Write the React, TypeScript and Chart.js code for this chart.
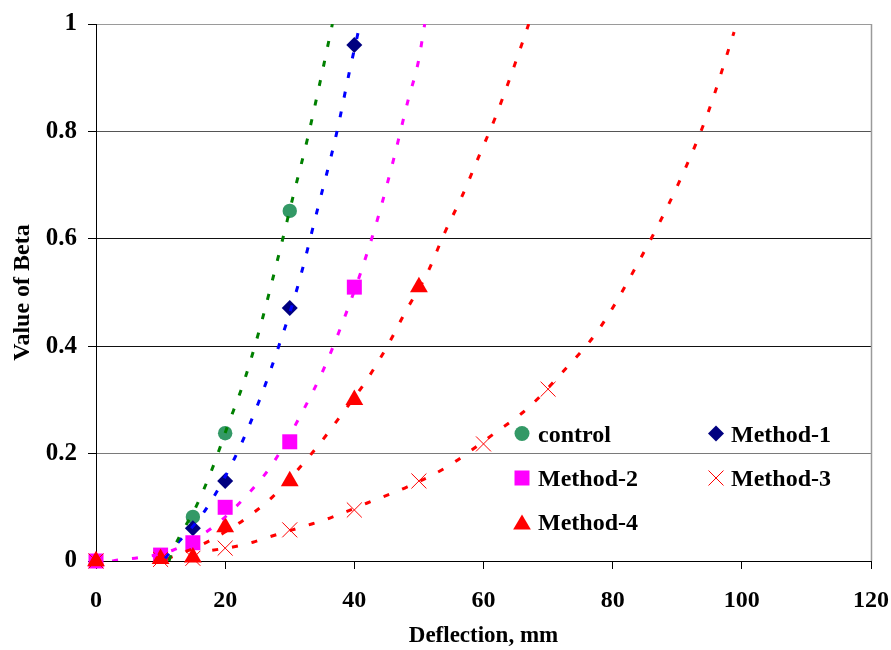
import React, { useEffect, useRef } from 'react';
import { Chart, registerables } from 'chart.js';

Chart.register(...registerables);

// ---- Measured markers ----
const controlX = [15, 20, 30];
const controlY = [0.082, 0.238, 0.652];
const method1X = [15, 20, 30, 40];
const method1Y = [0.061, 0.149, 0.471, 0.961];
const method2X = [0, 10, 15, 20, 30, 40];
const method2Y = [0, 0.011, 0.034, 0.1, 0.222, 0.51];
const method3X = [0, 10, 15, 20, 30, 40, 50, 60, 70];
const method3Y = [0, 0.003, 0.005, 0.024, 0.058, 0.095, 0.149, 0.218, 0.32];
const method4X = [0, 10, 15, 20, 30, 40, 50];
const method4Y = [0, 0.004, 0.007, 0.063, 0.149, 0.3, 0.51];

// ---- Trend lines ----
const controlTrendX = [11.3, 11.9, 15.6, 18.1, 20.4, 22.8, 25.2, 28.3, 30.5, 32.7, 34.7, 36.6];
const controlTrendY = [0, 0.02, 0.104, 0.175, 0.252, 0.33, 0.426, 0.57, 0.678, 0.784, 0.892, 1.0];
const method1TrendX = [10.7, 12.4, 16.6, 21.4, 25.2, 28.3, 31.3, 34.2, 37.3, 39.2, 40.6];
const method1TrendY = [0.005, 0.03, 0.089, 0.19, 0.296, 0.4, 0.514, 0.65, 0.799, 0.909, 0.985];
const method2TrendX = [2.5, 3.4, 6.5, 11.9, 18.1, 23.1, 27.4, 32.1, 35.2, 37.6, 40.9, 43.7, 46.1, 48.3, 49.9, 50.9];
const method2TrendY = [0, 0.002, 0.006, 0.02, 0.063, 0.119, 0.182, 0.281, 0.356, 0.426, 0.534, 0.641, 0.749, 0.857, 0.929, 1.0];
const method3TrendX = [18, 21.2, 24.3, 27.4, 33.4, 36.2, 42.0, 48.2, 54.3, 61.5, 66.9, 71.8, 77.9, 84.2, 90.0, 94.8, 98.8];
const method3TrendY = [0.02, 0.026, 0.035, 0.047, 0.069, 0.08, 0.108, 0.138, 0.175, 0.236, 0.285, 0.346, 0.432, 0.561, 0.698, 0.836, 0.985];
const method4TrendX = [11, 12.4, 15.6, 18.4, 21.2, 24.3, 27.3, 34.2, 38.1, 41.8, 45.1, 48.0, 51.3, 53.9, 56.7, 59.3, 61.8, 64.0, 66.1, 67.0];
const method4TrendY = [0.004, 0.011, 0.026, 0.043, 0.063, 0.089, 0.119, 0.212, 0.274, 0.335, 0.4, 0.466, 0.536, 0.609, 0.68, 0.754, 0.825, 0.896, 0.968, 1.0];

// ---- Axis ----
const xMin = 0;
const xMax = 120;
const xStep = 20;
const yMin = 0;
const yMax = 1;
const yStep = 0.2;
const xTitle = 'Deflection, mm';
const yTitle = 'Value of Beta';
const legendOrder = ['control', 'Method-1', 'Method-2', 'Method-3', 'Method-4'];

const FONT = '"Liberation Serif", "Times New Roman", Times, serif';

const zip = (xs: number[], ys: number[]) => xs.map((x, i) => ({ x, y: ys[i] }));

function drawMarker(ctx: CanvasRenderingContext2D, style: string, x: number, y: number, color: string) {
  ctx.save();
  ctx.fillStyle = color;
  ctx.strokeStyle = color;
  ctx.lineWidth = 1;
  ctx.beginPath();
  if (style === 'circle') {
    ctx.arc(x, y, 7.5, 0, Math.PI * 2);
    ctx.fill();
  } else if (style === 'rectRot') {
    const s = 8;
    ctx.moveTo(x - s, y);
    ctx.lineTo(x, y - s);
    ctx.lineTo(x + s, y);
    ctx.lineTo(x, y + s);
    ctx.closePath();
    ctx.fill();
  } else if (style === 'rect') {
    ctx.rect(x - 7.5, y - 7.5, 15, 15);
    ctx.fill();
  } else if (style === 'crossRot') {
    const s = 7.5;
    ctx.moveTo(x - s, y - s);
    ctx.lineTo(x + s, y + s);
    ctx.moveTo(x + s, y - s);
    ctx.lineTo(x - s, y + s);
    ctx.stroke();
  } else if (style === 'triangle') {
    const w = 17.7;
    const h = 15;
    ctx.moveTo(x, y - h / 2);
    ctx.lineTo(x + w / 2, y + h / 2);
    ctx.lineTo(x - w / 2, y + h / 2);
    ctx.closePath();
    ctx.fill();
  }
  ctx.restore();
}

const legendPlugin = {
  id: 'insideLegend',
  afterDraw(chart: any) {
    const ctx: CanvasRenderingContext2D = chart.ctx;
    const colMarkerX = [522, 716];
    const colTextX = [538, 731];
    const rowY = [433.5, 478, 522];
    legendOrder.forEach((label, i) => {
      const ds = chart.data.datasets.find((d: any) => d.label === label);
      if (!ds) return;
      const col = i % 2;
      const row = Math.floor(i / 2);
      const color = ds.pointStyle === 'crossRot' ? ds.borderColor : ds.backgroundColor;
      drawMarker(ctx, ds.pointStyle, colMarkerX[col], rowY[row], color);
      ctx.save();
      ctx.font = `bold 24px ${FONT}`;
      ctx.fillStyle = '#000';
      ctx.textBaseline = 'alphabetic';
      ctx.textAlign = 'left';
      ctx.fillText(label, colTextX[col], rowY[row] + 8);
      ctx.restore();
    });
  },
};

const framePlugin = {
  id: 'plotFrame',
  beforeDatasetsDraw(chart: any) {
    const { ctx, chartArea } = chart;
    ctx.save();
    ctx.strokeStyle = '#9a9a9a';
    ctx.lineWidth = 1.5;
    ctx.beginPath();
    ctx.moveTo(chartArea.right + 0.5, chartArea.top);
    ctx.lineTo(chartArea.right + 0.5, chartArea.bottom);
    ctx.stroke();
    ctx.restore();
  },
};

function trend(label: string, xs: number[], ys: number[], color: string) {
  return {
    label,
    data: zip(xs, ys),
    showLine: true,
    pointRadius: 0,
    borderColor: color,
    backgroundColor: color,
    borderWidth: 3,
    borderDash: [6, 14],
    cubicInterpolationMode: 'monotone',
    fill: false,
  };
}

export default function App() {
  const canvasRef = useRef<HTMLCanvasElement | null>(null);

  useEffect(() => {
    document.body.style.margin = '0';
    const canvas = canvasRef.current;
    if (!canvas) return;

    const datasets: any[] = [
      trend('controlTrend', controlTrendX, controlTrendY, '#008000'),
      trend('method1Trend', method1TrendX, method1TrendY, '#0000ff'),
      trend('method2Trend', method2TrendX, method2TrendY, '#ff00ff'),
      trend('method3Trend', method3TrendX, method3TrendY, '#ff0000'),
      trend('method4Trend', method4TrendX, method4TrendY, '#ff0000'),
      {
        label: 'Method-4',
        data: zip(method4X, method4Y),
        pointStyle: 'triangle',
        pointRadius: 10.3,
        backgroundColor: '#ff0000',
        borderColor: '#ff0000',
        borderWidth: 0,
        clip: false,
      },
      {
        label: 'Method-3',
        data: zip(method3X, method3Y),
        pointStyle: 'crossRot',
        pointRadius: 10.6,
        backgroundColor: '#ff0000',
        borderColor: '#ff0000',
        borderWidth: 1,
        clip: false,
      },
      {
        label: 'Method-2',
        data: zip(method2X, method2Y),
        pointStyle: 'rect',
        pointRadius: 10.6,
        backgroundColor: '#ff00ff',
        borderColor: '#ff00ff',
        borderWidth: 0,
        clip: false,
      },
      {
        label: 'Method-1',
        data: zip(method1X, method1Y),
        pointStyle: 'rectRot',
        pointRadius: 8,
        backgroundColor: '#000080',
        borderColor: '#000080',
        borderWidth: 0,
        clip: false,
      },
      {
        label: 'control',
        data: zip(controlX, controlY),
        pointStyle: 'circle',
        pointRadius: 7.2,
        backgroundColor: '#339966',
        borderColor: '#339966',
        borderWidth: 0,
        clip: false,
      },
    ];

    const gridColor = (c: any) => {
      const v = c.tick ? Math.round(c.tick.value * 10) / 10 : 0;
      if (v === 1) return '#9a9a9a';
      if (v === 0.2) return '#7a7a7a';
      if (v === 0.8) return '#555555';
      return '#111111';
    };

    const chart = new Chart(canvas, {
      type: 'scatter',
      data: { datasets },
      options: {
        responsive: false,
        animation: false,
        events: [],
        layout: { padding: { left: 0, right: 0, top: 24, bottom: 0 } },
        plugins: {
          legend: { display: false },
          tooltip: { enabled: false },
        },
        scales: {
          x: {
            type: 'linear',
            min: xMin,
            max: xMax,
            ticks: {
              stepSize: xStep,
              padding: 17,
              color: '#000',
              font: { family: FONT, size: 24, weight: 'bold' },
            },
            grid: {
              drawOnChartArea: false,
              drawTicks: true,
              tickLength: 8,
              tickColor: '#000',
            },
            border: { color: '#000', width: 1 },
            title: {
              display: true,
              text: xTitle,
              color: '#000',
              font: { family: FONT, size: 23, weight: 'bold' },
              padding: { top: 0, bottom: 0 },
            },
            afterFit(scale: any) {
              scale.height = 89;
              scale.paddingRight = 20;
              scale.paddingLeft = 0;
            },
          },
          y: {
            type: 'linear',
            min: yMin,
            max: yMax,
            ticks: {
              stepSize: yStep,
              padding: 11,
              color: '#000',
              font: { family: FONT, size: 25, weight: 'bold' },
              callback: (v: any) => String(Math.round(Number(v) * 10) / 10),
            },
            grid: {
              color: gridColor,
              drawTicks: true,
              tickLength: 8,
              tickColor: '#000',
            },
            border: { color: '#000', width: 1 },
            title: {
              display: true,
              text: yTitle,
              color: '#000',
              font: { family: FONT, size: 24, weight: 'bold' },
              padding: { top: 8, bottom: 0 },
            },
            afterFit(scale: any) {
              scale.width = 96;
              scale.paddingTop = 0;
              scale.paddingBottom = 0;
            },
          },
        },
      } as any,
      plugins: [framePlugin, legendPlugin],
    });

    return () => {
      chart.destroy();
    };
  }, []);

  return (
    <div style={{ width: 891, height: 650, background: '#fff' }}>
      <canvas ref={canvasRef} width={891} height={650} style={{ display: 'block' }} />
    </div>
  );
}
